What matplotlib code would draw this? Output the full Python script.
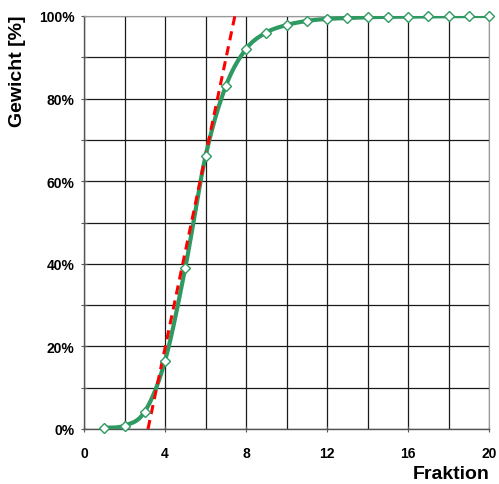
import numpy as np
import matplotlib
matplotlib.use("Agg")
import matplotlib.pyplot as plt
from matplotlib.ticker import MultipleLocator, FuncFormatter

fraktion = [1, 2, 3, 4, 5, 6, 7, 8, 9, 10, 11, 12, 13, 14, 15, 16, 17, 18, 19, 20]
gewicht = [0.3, 0.8, 4.2, 16.5, 39.0, 66.0, 83.0, 92.0, 96.0, 97.8, 98.8, 99.3,
           99.5, 99.7, 99.8, 99.85, 99.9, 99.95, 100.0, 100.0]
tangente_x = [3.16, 7.45]
tangente_y = [0.0, 100.0]

green = "#2e9a62"

def smooth(xs, ys, n=20, t=0.5):
    xs = np.asarray(xs, float); ys = np.asarray(ys, float)
    px = np.concatenate([[xs[0]], xs, [xs[-1]]])
    py = np.concatenate([[ys[0]], ys, [ys[-1]]])
    ox, oy = [], []
    for i in range(1, len(px) - 2):
        p0 = np.array([px[i - 1], py[i - 1]]); p1 = np.array([px[i], py[i]])
        p2 = np.array([px[i + 1], py[i + 1]]); p3 = np.array([px[i + 2], py[i + 2]])
        c1 = p1 + (p2 - p0) * t / 3
        c2 = p2 - (p3 - p1) * t / 3
        s = np.linspace(0, 1, n)[:, None]
        b = (1 - s) ** 3 * p1 + 3 * (1 - s) ** 2 * s * c1 + 3 * (1 - s) * s ** 2 * c2 + s ** 3 * p2
        ox.extend(b[:, 0]); oy.extend(b[:, 1])
    return ox, oy

plt.rcParams['font.family'] = ['Liberation Sans', 'DejaVu Sans']

fig = plt.figure(figsize=(4.99, 4.85), dpi=100)
ax = fig.add_axes([84 / 499, 1 - 430 / 485, 405 / 499, 413 / 485])

ax.set_xlim(0, 20)
ax.set_ylim(0, 100)
ax.xaxis.set_major_locator(MultipleLocator(4))
ax.xaxis.set_minor_locator(MultipleLocator(2))
ax.yaxis.set_major_locator(MultipleLocator(20))
ax.yaxis.set_minor_locator(MultipleLocator(10))
ax.yaxis.set_major_formatter(FuncFormatter(lambda v, p: f"{int(round(v))}%"))
ax.grid(True, which='both', color='#1a1a1a', linewidth=0.9)
ax.set_axisbelow(True)

ax.tick_params(axis='both', which='major', labelsize=10, length=4, width=0.8,
               direction='inout', color='#555555')
ax.tick_params(axis='y', which='minor', length=4, width=0.8, direction='inout', color='#555555')
ax.tick_params(axis='x', which='minor', length=0)
ax.tick_params(axis='x', pad=10)
ax.tick_params(axis='y', pad=5)
for lab in ax.get_xticklabels() + ax.get_yticklabels():
    lab.set_fontweight('bold')

for side in ['top', 'right']:
    ax.spines[side].set_color('#999999')
for side in ['left', 'bottom']:
    ax.spines[side].set_color('#555555')
    ax.spines[side].set_linewidth(1.0)

sx, sy = smooth(fraktion, gewicht)
ax.plot(sx, sy, color=green, linewidth=3, zorder=3, solid_capstyle='round')
ax.plot(fraktion, gewicht, linestyle='none', marker='D', markersize=5.5,
        markerfacecolor='white', markeredgecolor=green, markeredgewidth=1.0, zorder=5,
        clip_on=False)
ax.plot(tangente_x, tangente_y, color='#ff0000', linestyle=(0, (3, 2)), linewidth=2.2, zorder=4)

fig.text(18 / 499, 1 - 71 / 485, "Gewicht [%]", rotation=90, ha='center', va='center',
         fontsize=14, fontweight='bold')
fig.text(490 / 499, 1 - 475 / 485, "Fraktion", ha='right', va='center',
         fontsize=14, fontweight='bold')

fig.savefig("out.png", dpi=100)
